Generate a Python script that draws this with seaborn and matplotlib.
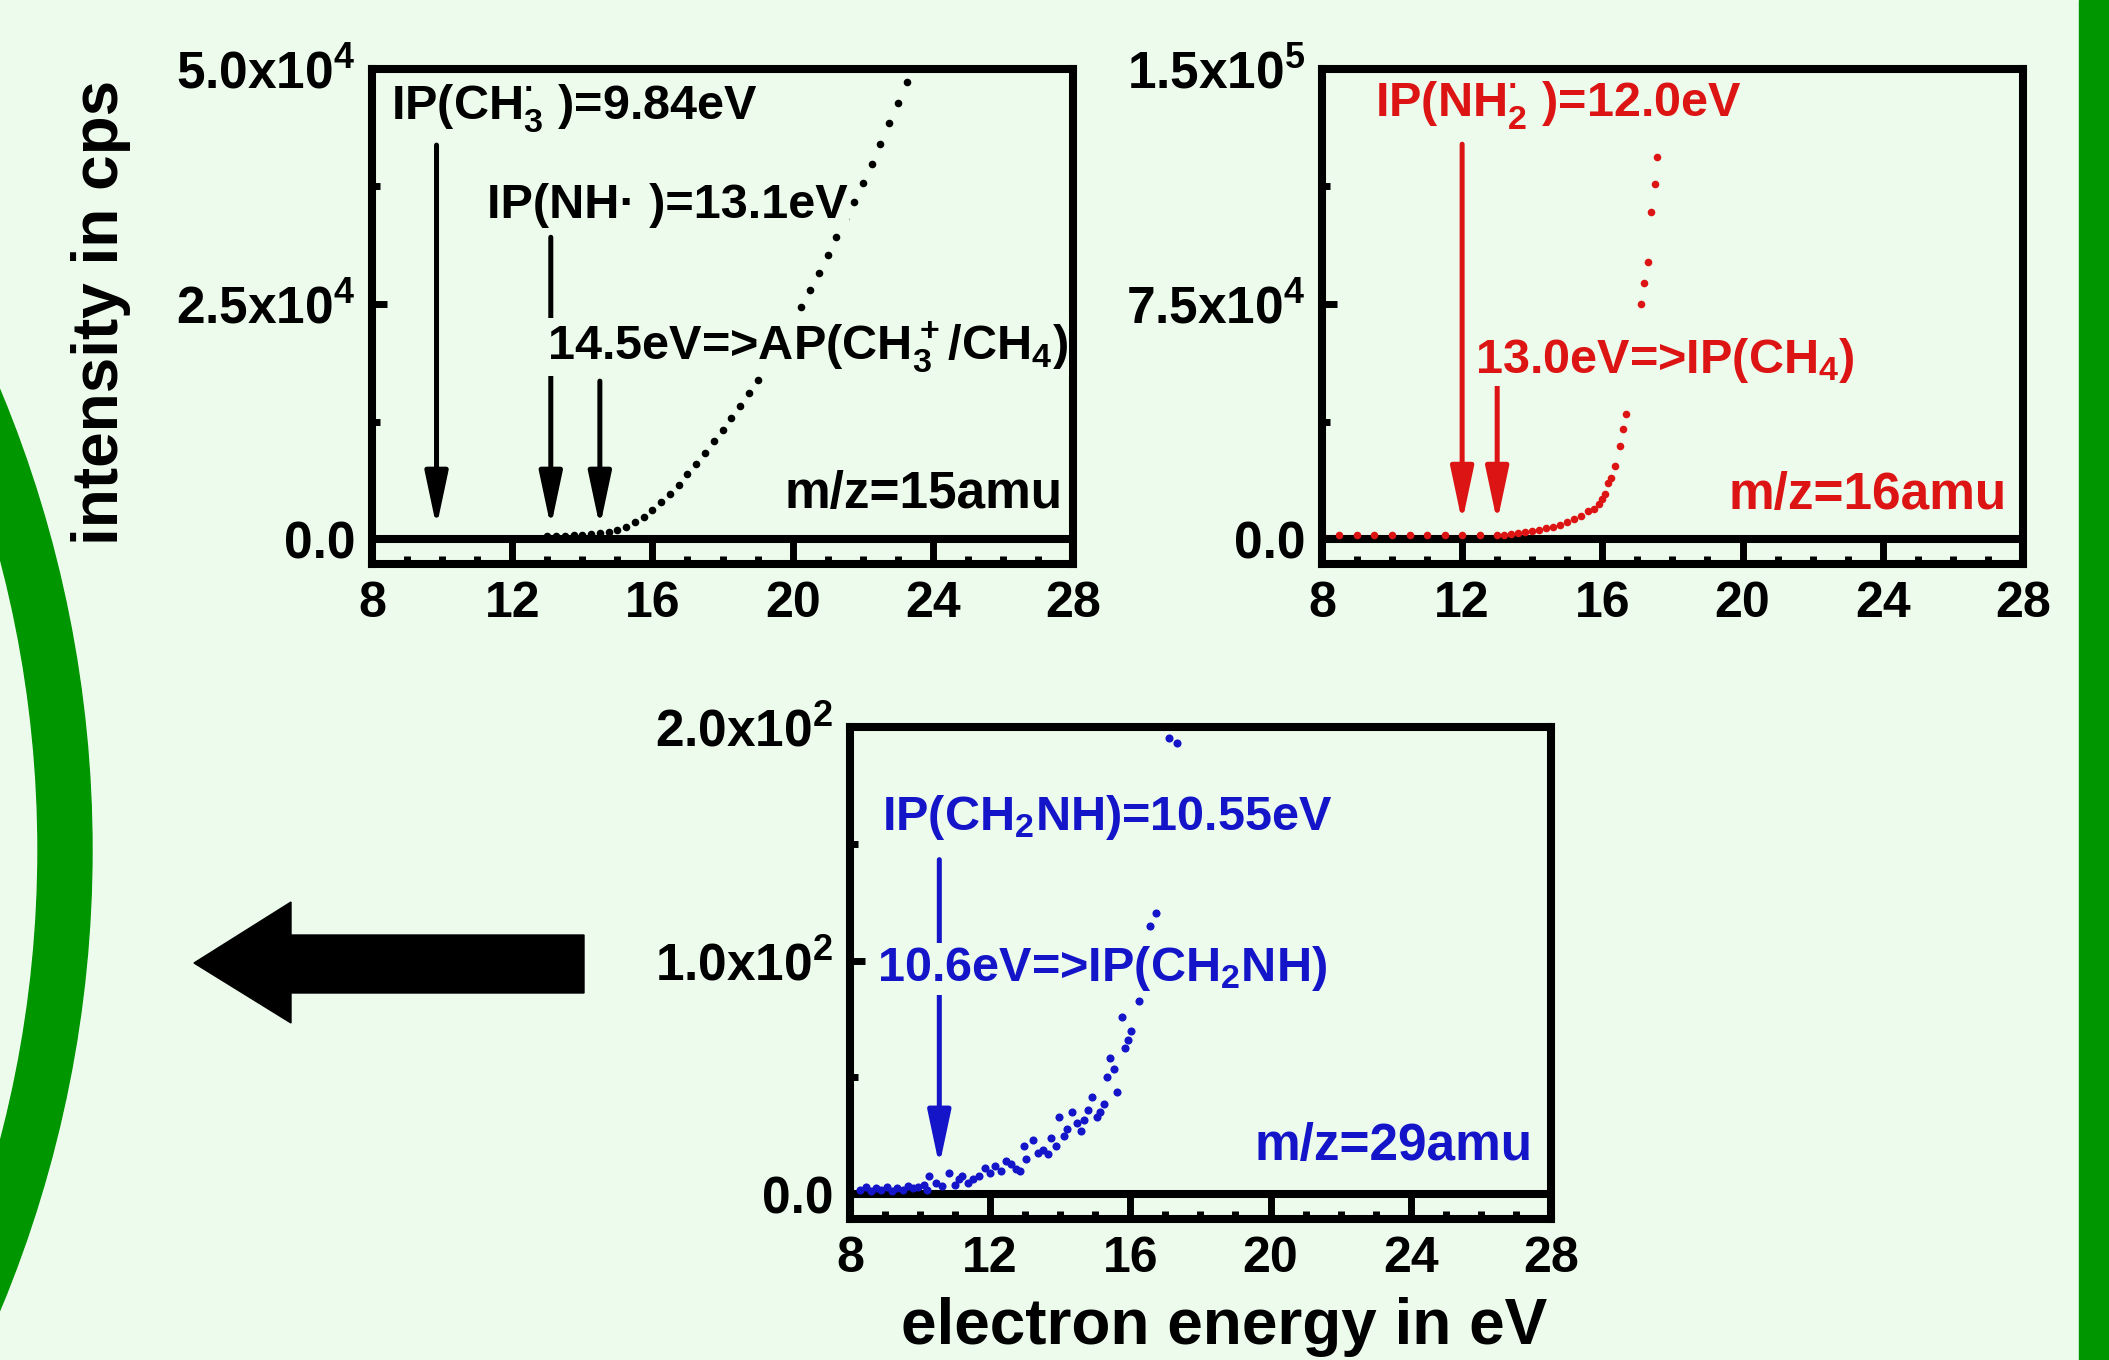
import matplotlib
matplotlib.use('Agg')
import matplotlib.pyplot as plt
import matplotlib.patches as mpatches
from matplotlib.ticker import MultipleLocator
import seaborn as sns

# m/z=15 (black): electron energy (eV) and intensity (cps)
e15 = [13.0, 13.25, 13.5, 13.75, 14.0, 14.25, 14.5, 14.75, 15.0, 15.25, 15.5, 15.75,
       16.0, 16.25, 16.5, 16.75, 17.0, 17.25, 17.5, 17.75, 18.0, 18.25, 18.5, 18.75,
       19.0, 19.25, 19.5, 19.75, 20.0, 20.25, 20.5, 20.75, 21.0, 21.25, 21.5, 21.75,
       22.0, 22.25, 22.5, 22.75, 23.0, 23.25]
i15 = [300, 300, 350, 400, 450, 500, 600, 750, 950, 1300, 1800, 2400,
       3100, 3900, 4800, 5800, 6900, 8000, 9200, 10400, 11600, 12900, 14200, 15500,
       16900, 18400, 19900, 21400, 23000, 24700, 26500, 28300, 30200, 32100, 34000, 35900,
       37900, 39900, 42000, 44200, 46400, 48600]

# m/z=16 (red)
e16 = [8.0, 8.5, 9.0, 9.5, 10.0, 10.5, 11.0, 11.5, 12.0, 12.5, 13.0, 13.2, 13.4, 13.6,
       13.8, 14.0, 14.2, 14.4, 14.6, 14.8, 15.0, 15.2, 15.4, 15.6, 15.75, 15.9, 16.0,
       16.07, 16.16, 16.26, 16.35, 16.49, 16.58, 16.68, 17.10, 17.20, 17.29, 17.38,
       17.51, 17.57]
i16 = [1300, 1300, 1300, 1300, 1300, 1300, 1300, 1300, 1300, 1300, 1300, 1400, 1600, 1900,
       2200, 2500, 3000, 3400, 3900, 4600, 5400, 6400, 7300, 8800, 9700, 11200, 12800,
       14300, 18000, 19600, 23200, 29600, 35100, 39800, 75000, 81700, 88400, 104300,
       113400, 122000]

# m/z=29 (blue)
e29 = [8.3, 8.45, 8.6, 8.75, 8.9, 9.05, 9.2, 9.35, 9.5, 9.65, 9.8, 9.95, 10.1, 10.2,
       10.26, 10.45, 10.62, 10.82, 11.0, 11.1, 11.2, 11.38, 11.5, 11.67, 11.85, 12.0,
       12.13, 12.32, 12.45, 12.6, 12.75, 12.84, 12.98, 13.03, 13.22, 13.36, 13.5, 13.64,
       13.74, 13.88, 13.97, 14.11, 14.2, 14.34, 14.48, 14.6, 14.67, 14.8, 14.91, 15.05,
       15.14, 15.24, 15.33, 15.43, 15.52, 15.61, 15.75, 15.85, 15.94, 16.03, 16.25,
       16.55, 16.74, 17.11, 17.34]
i29 = [2, 3, 1.5, 2.5, 2, 3, 1.5, 2.5, 2, 3.5, 2.5, 3, 4, 2,
       7.8, 5.0, 3.5, 9.2, 4, 6.4, 8, 5.0, 6.5, 7.8, 11.3, 9,
       12.0, 9.9, 14, 12.8, 11, 9.9, 20.5, 14.9, 23.3, 17.7, 19, 17.0,
       24.0, 20.5, 33.1, 24.7, 28, 35.2, 30.3, 27, 31.7, 36, 41.5, 33,
       35.2, 38.7, 50.0, 58.4, 53.5, 43.7, 76.0, 62.6, 66.1, 69.7, 82.6,
       114.6, 120.2, 195.4, 193.3]

x_ticks = [8, 12, 16, 20, 24, 28]
x_ticklabels = ['8', '12', '16', '20', '24', '28']
y15_labels = ['0.0', '2.5x10$^{4}$', '5.0x10$^{4}$']
y16_labels = ['0.0', '7.5x10$^{4}$', '1.5x10$^{5}$']
y29_labels = ['0.0', '1.0x10$^{2}$', '2.0x10$^{2}$']

# energies marked by arrows
ip15 = [9.84, 13.1, 14.5]
ip16 = [12.0, 13.0]
ip29 = [10.55]

BG = '#EDFBED'
GREEN = '#009600'
RED = '#DC1414'
BLUE = '#1414C8'

sns.set_style('ticks')
plt.rcParams['font.family'] = ['Liberation Sans', 'DejaVu Sans']
plt.rcParams['font.weight'] = 'bold'
plt.rcParams['mathtext.fontset'] = 'custom'
plt.rcParams['mathtext.default'] = 'regular'
plt.rcParams['text.color'] = 'black'
plt.rcParams['xtick.color'] = 'black'
plt.rcParams['ytick.color'] = 'black'
plt.rcParams['axes.labelcolor'] = 'black'

fig = plt.figure(figsize=(21.09, 13.6), dpi=100, facecolor=BG)

#Decorations: green arc, right bar, big arrow (pixel coordinates)
deco = fig.add_axes([0, 0, 1, 1], zorder=0)
deco.set_xlim(0, 2109)
deco.set_ylim(1360, 0)
deco.axis('off')
deco.add_patch(mpatches.Wedge((-1104, 850), 1196, -90, 90, width=54, color=GREEN))
deco.add_patch(mpatches.Rectangle((2079, 0), 40, 1360, color=GREEN))
deco.add_patch(mpatches.Polygon([(194, 963), (291, 902), (291, 935), (584, 935),
                                 (584, 993), (291, 993), (291, 1023)], color='black'))

LW = 5.8
box = dict(facecolor=BG, edgecolor='none', pad=1)


def panel(rect, e, inten, color, top, ylabels, size):
    ax = fig.add_axes(rect, zorder=2)
    ax.set_facecolor(BG)
    ax.axhline(0, color='black', lw=LW, zorder=3)
    sns.scatterplot(x=e, y=inten, ax=ax, color=color, s=size, linewidth=0, zorder=4)
    ax.set_xlim(8, 28)
    ax.set_ylim(-0.053 * top, top)
    ax.set_xticks(x_ticks)
    ax.set_xticklabels(x_ticklabels, fontsize=36, fontweight='bold', color='black')
    ax.xaxis.set_minor_locator(MultipleLocator(1))
    ax.set_yticks([0, top / 2, top])
    ax.set_yticklabels(ylabels, fontsize=37, fontweight='bold', color='black')
    ax.yaxis.set_minor_locator(MultipleLocator(top / 4))
    ax.tick_params(axis='x', which='major', direction='in', length=17, width=5, pad=12)
    ax.tick_params(axis='x', which='minor', direction='in', length=6, width=5)
    ax.tick_params(axis='y', which='major', direction='in', length=11, width=5, pad=12)
    ax.tick_params(axis='y', which='minor', direction='in', length=6, width=5)
    ax.tick_params(top=False, right=False, which='both', colors='black')
    for s in ax.spines.values():
        s.set_linewidth(LW)
        s.set_color('black')
        s.set_zorder(5)
    ax.set_xlabel('')
    ax.set_ylabel('')
    return ax


def arrow(ax, x, tail, tip, color):
    ax.annotate('', xy=(x, tip), xytext=(x, tail), zorder=6,
                arrowprops=dict(arrowstyle='-|>,head_length=3.3,head_width=0.7',
                                mutation_scale=10, lw=3.6, color=color,
                                shrinkA=0, shrinkB=0))


#Panel m/z=15
ax1 = panel([0.1764, 0.5853, 0.3324, 0.364], e15, i15, 'black', 5e4, y15_labels, 30)
arrow(ax1, ip15[0], 41900, 1280, 'black')
arrow(ax1, ip15[1], 32100, 1280, 'black')
arrow(ax1, ip15[2], 16800, 1280, 'black')
ax1.text(8.54, 45860, 'IP(CH$_3^{·}$ )=9.84eV', fontsize=35, va='center', ha='left', zorder=7)
ax1.text(11.28, 35430, 'IP(NH· )=13.1eV', fontsize=35, va='center', ha='left', zorder=7, bbox=box)
ax1.text(12.99, 20430, '14.5eV=>AP(CH$_3^+$/CH$_4$)', fontsize=35, va='center', ha='left',
         zorder=7, bbox=box)
ax1.text(27.71, 4790, 'm/z=15amu', fontsize=37, va='center', ha='right', zorder=7)

#Panel m/z=16
ax2 = panel([0.6268, 0.5853, 0.3324, 0.364], e16, i16, RED, 1.5e5, y16_labels, 30)
arrow(ax2, ip16[0], 126000, 5400, RED)
arrow(ax2, ip16[1], 48800, 5400, RED)
ax2.text(9.51, 138500, 'IP(NH$_2^{·}$ )=12.0eV', fontsize=35, va='center', ha='left',
         color=RED, zorder=7)
ax2.text(12.37, 57100, '13.0eV=>IP(CH$_4$)', fontsize=35, va='center', ha='left',
         color=RED, zorder=7, bbox=box)
ax2.text(27.54, 14040, 'm/z=16amu', fontsize=37, va='center', ha='right', color=RED, zorder=7)

#Panel m/z=29
ax3 = panel([0.403, 0.1037, 0.3324, 0.3618], e29, i29, BLUE, 200, y29_labels, 34)
arrow(ax3, ip29[0], 143.2, 12.1, BLUE)
ax3.text(8.91, 161.4, 'IP(CH$_2$NH)=10.55eV', fontsize=35, va='center', ha='left',
         color=BLUE, zorder=7)
ax3.text(8.77, 96.5, '10.6eV=>IP(CH$_2$NH)', fontsize=35, va='center', ha='left',
         color=BLUE, zorder=7, bbox=box)
ax3.text(27.49, 20.6, 'm/z=29amu', fontsize=37, va='center', ha='right', color=BLUE, zorder=7)

fig.text(101 / 2109, 1 - 312 / 1360, 'intensity in cps', rotation=90, fontsize=46,
         fontweight='bold', ha='center', va='center', color='black')
fig.text(1224 / 2109, 1 - 1327 / 1360, 'electron energy in eV', fontsize=46,
         fontweight='bold', ha='center', va='center', color='black')

fig.savefig('out.png', dpi=100, facecolor=BG)
